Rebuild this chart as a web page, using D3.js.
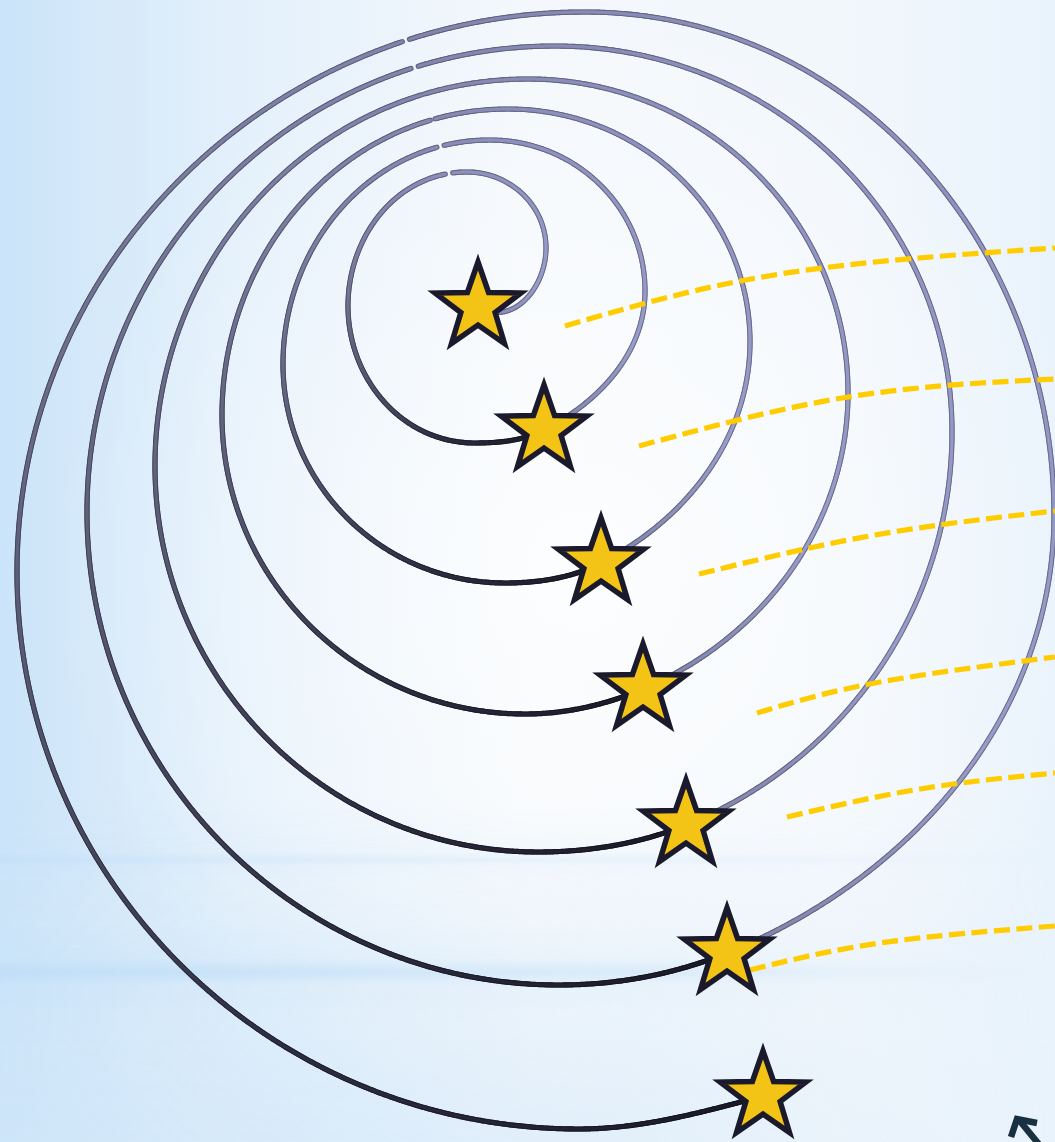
<!DOCTYPE html>
<html>
<head>
<meta charset="utf-8">
<script src="https://cdn.jsdelivr.net/npm/d3@7"></script>
<style>
  html, body { margin: 0; padding: 0; background: #f3f8fc; overflow: hidden; }
  svg { display: block; }
</style>
</head>
<body>
<div class="canvas"></div>
<script>
const dimension = {'width': 1055, 'height': 1142};

// stars sitting on the spiral: centre and direction of travel (degrees)
const starX = [478, 544, 601, 643, 686, 727, 763];
const starY = [307, 430, 563, 689, 825, 953, 1096];
const starAngle = [30, -27, -27, -23, -22, -22, -15];

// extreme points of every turn of the spiral
const ringEast  = [[546,248],[645,291],[750,342],[848,393],[952,432],[1054,515]];
const ringNorth = [[467,172],[490,140],[508,109],[528,79],[555,46],[585,12]];
const ringWest  = [[348,306],[283,364],[222,415],[155,466],[87,512],[17,572]];
const ringSouth = [[475,443],[505,583],[525,714],[538,852],[559,985],[579,1129]];
// small breaks near the top of each turn
const ringGap = [[449,174],[440,148],[433,123],[424,98],[415,69],[405,40]];

// dashed yellow guides (start, middle, end)
const dashStart = [[565,326],[639,446],[699,574],[757,713],[787,817],[750,970]];
const dashMid   = [[780,274],[848,397],[875,535],[875,683],[920,789],[880,943]];
const dashEnd   = [[1055,248],[1055,379],[1055,511],[1055,657],[1055,773],[1055,926]];

const svg = d3.select('.canvas')
  .append('svg')
  .attr('width', dimension.width)
  .attr('height', dimension.height);

const x = d3.scaleLinear().domain([0, dimension.width]).range([0, dimension.width]);
const y = d3.scaleLinear().domain([0, dimension.height]).range([0, dimension.height]);

// ---------- background ----------
const defs = svg.append('defs');
const bgGrad = defs.append('linearGradient').attr('id', 'bg').attr('x1', 0).attr('x2', 1).attr('y1', 0).attr('y2', 0);
[[0, '#cbe4f9'], [0.22, '#e3f0fb'], [0.5, '#f4f8fc'], [0.8, '#f2f7fc'], [1, '#e9f3fc']]
  .forEach(s => bgGrad.append('stop').attr('offset', s[0]).attr('stop-color', s[1]));

const glow = defs.append('radialGradient').attr('id', 'glow').attr('cx', 0.55).attr('cy', 0.5).attr('r', 0.5);
glow.append('stop').attr('offset', 0).attr('stop-color', '#ffffff').attr('stop-opacity', 0.75);
glow.append('stop').attr('offset', 1).attr('stop-color', '#ffffff').attr('stop-opacity', 0);

const band = defs.append('linearGradient').attr('id', 'band').attr('x1', 0).attr('x2', 0).attr('y1', 0).attr('y2', 1);
[[0, 0], [0.35, 0.12], [0.5, 0.65], [0.62, 0.15], [1, 0]]
  .forEach(s => band.append('stop').attr('offset', s[0]).attr('stop-color', '#b9dbf6').attr('stop-opacity', s[1]));

const fade = defs.append('linearGradient').attr('id', 'fade').attr('x1', 0).attr('x2', 1).attr('y1', 0).attr('y2', 0);
fade.append('stop').attr('offset', 0).attr('stop-color', '#fff').attr('stop-opacity', 1);
fade.append('stop').attr('offset', 0.6).attr('stop-color', '#fff').attr('stop-opacity', 0.65);
fade.append('stop').attr('offset', 1).attr('stop-color', '#fff').attr('stop-opacity', 0);
defs.append('mask').attr('id', 'fadeMask')
  .append('rect').attr('width', dimension.width).attr('height', dimension.height).attr('fill', 'url(#fade)');

const bottomGrad = defs.append('linearGradient').attr('id', 'bottom').attr('x1', 0).attr('x2', 0).attr('y1', 0).attr('y2', 1);
bottomGrad.append('stop').attr('offset', 0).attr('stop-color', '#cfe6f9').attr('stop-opacity', 0);
bottomGrad.append('stop').attr('offset', 1).attr('stop-color', '#cfe6f9').attr('stop-opacity', 0.7);

svg.append('rect').attr('width', dimension.width).attr('height', dimension.height).attr('fill', 'url(#bg)');
svg.append('rect').attr('width', dimension.width).attr('height', dimension.height).attr('fill', 'url(#glow)');
const bands = svg.append('g').attr('mask', 'url(#fadeMask)');
bands.append('rect').attr('y', 800).attr('width', dimension.width).attr('height', 342).attr('fill', 'url(#bottom)');
bands.append('rect').attr('y', 925).attr('width', dimension.width).attr('height', 95).attr('fill', 'url(#band)');
bands.append('rect').attr('y', 835).attr('width', dimension.width).attr('height', 50).attr('fill', 'url(#band)').attr('opacity', 0.5);

// ---------- spiral ----------
const rad = d => d * Math.PI / 180;

// cubic piece between two points with given travel directions
const arcTo = (p, a, b) => {
  const c = Math.hypot(b.x - a.x, b.y - a.y);
  const th = Math.abs(b.ang - a.ang);
  const h = th < 1e-6 ? c / 3 : c * (4 / 3) * Math.tan(th / 4) / (2 * Math.sin(th / 2));
  p.bezierCurveTo(
    x(a.x + h * Math.cos(a.ang)), y(a.y + h * Math.sin(a.ang)),
    x(b.x - h * Math.cos(b.ang)), y(b.y - h * Math.sin(b.ang)),
    x(b.x), y(b.y));
};

const ringColor = d3.scaleLinear()
  .domain([0, 0.1, 0.35, 0.55, 0.7, 0.85, 1])
  .range(['#8083a8', '#989cc8', '#8d90bc', '#7a7c9e', '#585a74', '#2e2e42', '#191927']);

const probe = svg.append('path').attr('fill', 'none').attr('stroke', 'none');
const segments = [];

ringEast.forEach((e, k) => {
  const knots = [
    {x: starX[k], y: starY[k], ang: rad(starAngle[k])},
    {x: e[0], y: e[1], ang: rad(-90)},
    {x: ringNorth[k][0], y: ringNorth[k][1], ang: rad(-180)},
    {x: ringWest[k][0], y: ringWest[k][1], ang: rad(-270)},
    {x: ringSouth[k][0], y: ringSouth[k][1], ang: rad(-360)},
    {x: starX[k + 1], y: starY[k + 1], ang: rad(starAngle[k + 1] - 360)}
  ];
  const p = d3.path();
  p.moveTo(x(knots[0].x), y(knots[0].y));
  for (let i = 0; i < knots.length - 1; i++) arcTo(p, knots[i], knots[i + 1]);
  probe.attr('d', p.toString());
  const node = probe.node();
  const len = node.getTotalLength();
  const step = 2.5;
  const n = Math.ceil(len / step);
  const gx = x(ringGap[k][0]), gy = y(ringGap[k][1]);
  let prev = node.getPointAtLength(0);
  for (let i = 1; i <= n; i++) {
    const cur = node.getPointAtLength(Math.min(i * step, len));
    const mx = (prev.x + cur.x) / 2, my = (prev.y + cur.y) / 2;
    if (Math.hypot(mx - gx, my - gy) > 4.2) {
      segments.push({x1: prev.x, y1: prev.y, x2: cur.x, y2: cur.y, t: (i - 0.5) / n});
    }
    prev = cur;
  }
});
probe.remove();

const spiral = svg.append('g').attr('stroke-linecap', 'round');
spiral.selectAll('line.edge').data(segments).enter().append('line')
  .attr('class', 'edge')
  .attr('x1', d => d.x1).attr('y1', d => d.y1).attr('x2', d => d.x2).attr('y2', d => d.y2)
  .attr('stroke', d => d3.color(ringColor(d.t)).darker(0.9))
  .attr('stroke-width', 5.2);
spiral.selectAll('line.core').data(segments).enter().append('line')
  .attr('class', 'core')
  .attr('x1', d => d.x1).attr('y1', d => d.y1).attr('x2', d => d.x2).attr('y2', d => d.y2)
  .attr('stroke', d => ringColor(d.t))
  .attr('stroke-width', 3);

// ---------- dashed guides ----------
const guide = d3.line().x(d => x(d[0])).y(d => y(d[1])).curve(d3.curveNatural);
svg.append('g').selectAll('path').data(dashStart.map((s, i) => [s, dashMid[i], dashEnd[i]]))
  .enter().append('path')
  .attr('d', guide)
  .attr('fill', 'none')
  .attr('stroke', '#ffcc00')
  .attr('stroke-width', 5.2)
  .attr('stroke-dasharray', '16 6.5');

// ---------- stars ----------
const starPoints = (R, r) => d3.range(10).map(i => {
  const a = -Math.PI / 2 + i * Math.PI / 5;
  const rr = i % 2 ? r : R;
  return [rr * Math.cos(a), rr * Math.sin(a)];
});
const starShape = d3.line().curve(d3.curveLinearClosed)(starPoints(45, 45 * 0.4));
svg.append('g').selectAll('path').data(starX)
  .enter().append('path')
  .attr('d', starShape)
  .attr('transform', (d, i) => `translate(${x(d)},${y(starY[i])})`)
  .attr('fill', '#f3c416')
  .attr('stroke', '#1a1a2c')
  .attr('stroke-width', 5.5)
  .attr('stroke-linejoin', 'miter');

// ---------- corner arrow ----------
const arrow = svg.append('g')
  .attr('fill', 'none')
  .attr('stroke', '#18303f')
  .attr('stroke-width', 6.5)
  .attr('stroke-linejoin', 'miter');
const seg = d3.line().x(d => x(d[0])).y(d => y(d[1]));
arrow.append('path').attr('d', seg([[1042, 1148], [1019, 1120]]));
arrow.append('path').attr('d', seg([[1011, 1137], [1017, 1119], [1037, 1123]]));
</script>
</body>
</html>
